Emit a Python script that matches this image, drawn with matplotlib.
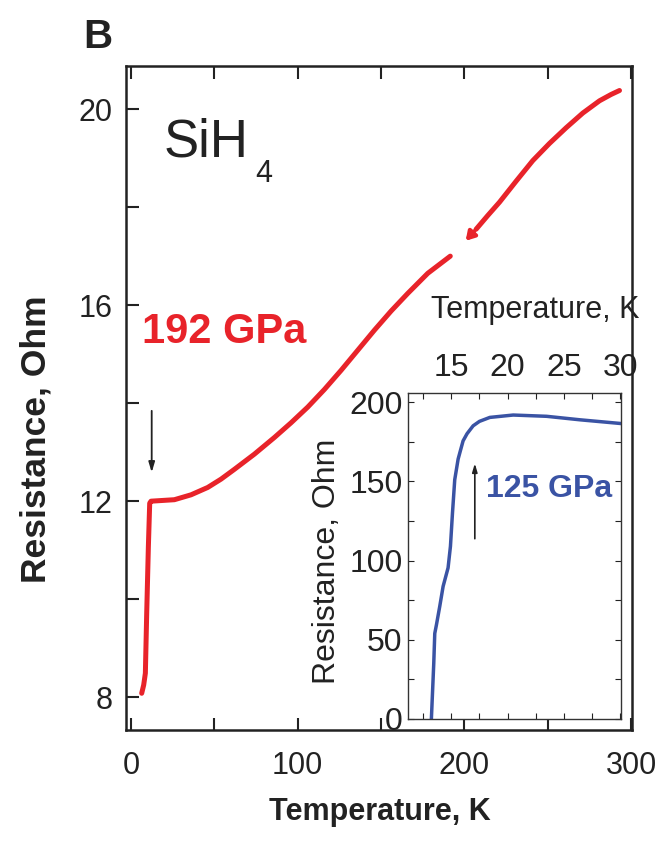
'''
SiH4 resistance vs temperature, with inset
'''

# Imports
import matplotlib
matplotlib.use('Agg')
import matplotlib.pyplot as plt
from matplotlib.ticker import MultipleLocator

plt.rcParams['font.family'] = ['Liberation Sans', 'DejaVu Sans']

# Data
# 192 GPa curve, below the gap
T_low = [6.4, 7.6, 8.6, 9.4, 10.4, 11.2, 12.0, 26, 36, 46, 54, 62, 74, 86, 96, 106,
         116, 126, 136, 146, 156, 166, 178, 191.5]
R_low = [8.08, 8.25, 8.49, 9.71, 11.07, 11.96, 12.0, 12.03, 12.13, 12.28, 12.45, 12.65,
         12.96, 13.3, 13.6, 13.92, 14.28, 14.67, 15.08, 15.49, 15.88, 16.24, 16.65, 17.0]
# 192 GPa curve, above the gap
T_high = [207, 214, 221, 231, 241, 251, 261, 271, 281, 288, 293]
R_high = [17.55, 17.83, 18.1, 18.53, 18.95, 19.3, 19.62, 19.92, 20.17, 20.3, 20.38]
# gap marker (red arrow)
gap_from = (207, 17.55)
gap_to = (199.6, 17.27)
# Tc arrow, main panel
tc_arrow_main = (12.4, 13.9, 12.53)

# 125 GPa inset curve
T_ins = [13.24, 13.45, 13.54, 13.69, 13.98, 14.28, 14.72, 14.93, 15.11, 15.31, 15.61, 15.8,
         16.05, 16.4, 16.94, 17.5, 18.42, 20.49, 23.45, 26.4, 29.95]
R_ins = [0, 35, 54, 59.5, 71, 83.7, 95.4, 109, 130, 151, 164, 169,
         175.5, 180, 185, 187.8, 190.3, 191.8, 191, 188.8, 186.5]
tc_arrow_ins = (17.09, 112, 163)

main_xticks = [0, 100, 200, 300]
main_yticks = [8, 12, 16, 20]
ins_xticks = [15, 20, 25, 30]
ins_yticks = [0, 50, 100, 150, 200]

red = '#e8232a'
blue = '#3a53a4'
ink = '#222222'

# Figure
fig = plt.figure(figsize=(6.64, 8.43), dpi=100)
ax = fig.add_axes([0.1898, 0.1340, 0.7620, 0.7877])

ax.plot(T_low, R_low, color=red, lw=3.6, solid_capstyle='round', solid_joinstyle='round')
ax.plot(T_high, R_high, color=red, lw=3.6, solid_capstyle='round', solid_joinstyle='round')
ax.annotate('', xy=gap_to, xytext=gap_from,
            arrowprops=dict(arrowstyle='-|>,head_length=0.5,head_width=0.3', color=red, lw=3))
ax.annotate('', xy=(tc_arrow_main[0], tc_arrow_main[2]), xytext=(tc_arrow_main[0], tc_arrow_main[1]),
            arrowprops=dict(arrowstyle='-|>,head_length=0.6,head_width=0.18', color=ink, lw=1.3))

ax.set_xlim(-3, 300.5)
ax.set_ylim(7.33, 20.88)
ax.set_xticks(main_xticks)
ax.set_yticks(main_yticks)
ax.xaxis.set_minor_locator(MultipleLocator(50))
ax.yaxis.set_minor_locator(MultipleLocator(2))
ax.tick_params(which='both', direction='in', length=9, width=1.5, top=True, right=False,
               labelsize=22, colors=ink)
ax.tick_params(axis='x', which='both', pad=15)
ax.tick_params(axis='y', which='both', pad=10)
for s in ax.spines.values():
    s.set_linewidth(1.8)
    s.set_color(ink)

ax.set_xlabel('Temperature, K', fontsize=22, fontweight='bold', color=ink)
ax.xaxis.set_label_coords(0.502, -0.123)
ax.xaxis.label.set_va('center')
ax.set_ylabel('Resistance, Ohm', fontsize=25.5, fontweight='bold', color=ink)
ax.yaxis.set_label_coords(-0.178, 0.438)
ax.yaxis.label.set_va('center')

ax.text(0.075, 0.863, 'SiH', transform=ax.transAxes, fontsize=38, va='baseline', color=ink)
ax.text(0.255, 0.825, '4', transform=ax.transAxes, fontsize=22, va='baseline', color=ink)
ax.text(0.031, 0.600, '192 GPa', transform=ax.transAxes, fontsize=30, fontweight='bold',
        color=red, va='center')
fig.text(0.125, 0.943, 'B', fontsize=29, fontweight='bold', va='baseline', color=ink)

# Inset
ax_in = fig.add_axes([0.6145, 0.1471, 0.3208, 0.3867])
ax_in.plot(T_ins, R_ins, color=blue, lw=2.5, solid_joinstyle='round')
ax_in.annotate('', xy=(tc_arrow_ins[0], tc_arrow_ins[2]), xytext=(tc_arrow_ins[0], tc_arrow_ins[1]),
               arrowprops=dict(arrowstyle='-|>,head_length=0.5,head_width=0.15', color=ink, lw=1.2))
ax_in.text(18.1, 145, '125 GPa', fontsize=23, fontweight='bold', color=blue, va='center')

ax_in.set_xlim(11.17, 30.05)
ax_in.set_ylim(0, 205.7)
ax_in.set_xticks(ins_xticks)
ax_in.set_yticks(ins_yticks)
ax_in.xaxis.set_minor_locator(MultipleLocator(2.5))
ax_in.yaxis.set_minor_locator(MultipleLocator(25))
ax_in.tick_params(which='both', direction='in', length=4, width=0.8, top=True, right=True,
                  bottom=True, left=True, labeltop=True, labelbottom=False,
                  labelsize=23, colors=ink)
ax_in.tick_params(axis='x', which='both', pad=7)
ax_in.tick_params(axis='y', which='both', pad=4)
for s in ax_in.spines.values():
    s.set_linewidth(1.0)
    s.set_color('#333333')
ax_in.xaxis.set_label_position('top')
ax_in.set_xlabel('Temperature, K', fontsize=22, color=ink)
ax_in.xaxis.set_label_coords(0.596, 1.255)
ax_in.xaxis.label.set_va('center')
ax_in.set_ylabel('Resistance, Ohm', fontsize=23, color=ink)
ax_in.yaxis.set_label_coords(-0.38, 0.485)
ax_in.yaxis.label.set_va('center')

fig.savefig('out.png', dpi=100, facecolor='white')
plt.close(fig)
